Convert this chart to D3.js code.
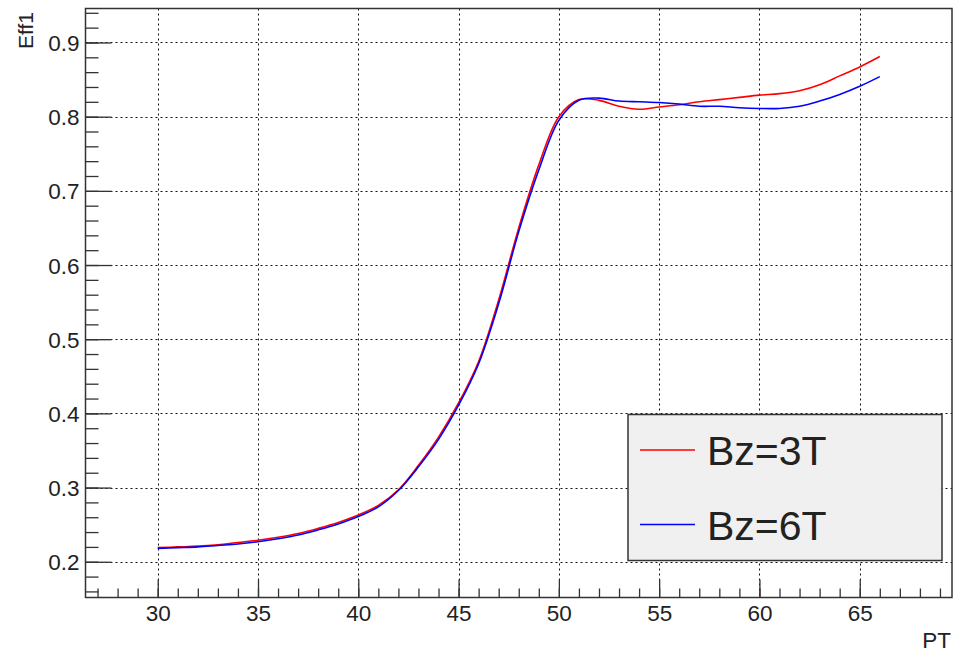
<!DOCTYPE html>
<html>
<head>
<meta charset="UTF-8">
<title>Eff1 vs PT</title>
<script src="https://cdn.jsdelivr.net/npm/d3@7"></script>
<style>
  body { margin: 0; background: #fff; }
  text { font-family: "Liberation Sans", Arial, sans-serif; fill: #222; }
</style>
</head>
<body>
<script>
// data
var pt = [30, 31, 32, 33, 34, 35, 36, 37, 38, 39, 40, 41, 42, 43, 44, 45, 46, 47, 48,
          49, 50, 51, 52, 53, 54, 55, 56, 57, 58, 59, 60, 61, 62, 63, 64, 65, 66];
var eff3T = [0.219, 0.220, 0.221, 0.223, 0.226, 0.229, 0.233, 0.238, 0.245, 0.253, 0.263, 0.276,
             0.297, 0.330, 0.368, 0.414, 0.470, 0.553, 0.650, 0.735, 0.800, 0.823, 0.822, 0.814,
             0.810, 0.813, 0.816, 0.820, 0.823, 0.826, 0.829, 0.831, 0.835, 0.843, 0.855, 0.867, 0.881];
var eff6T = [0.218, 0.219, 0.220, 0.222, 0.224, 0.227, 0.231, 0.236, 0.243, 0.251, 0.261, 0.274,
             0.296, 0.328, 0.365, 0.411, 0.467, 0.548, 0.645, 0.728, 0.795, 0.822, 0.825, 0.821,
             0.820, 0.819, 0.817, 0.814, 0.814, 0.812, 0.811, 0.811, 0.814, 0.821, 0.830, 0.841, 0.854];
var seriesNames = ["Bz=3T", "Bz=6T"];
var seriesColors = ["#ff0000", "#0000ff"];
var xTicks = [30, 35, 40, 45, 50, 55, 60, 65];
var yTicks = [0.2, 0.3, 0.4, 0.5, 0.6, 0.7, 0.8, 0.9];

var w = 954, h = 652;
var frame = { left: 85.5, top: 8.5, right: 952, bottom: 597.5 };

var x = d3.scaleLinear().domain([26.4, 69.6]).range([frame.left, frame.right]);
var y = d3.scaleLinear().domain([0.1518, 0.9458]).range([frame.bottom, frame.top]);

var svg = d3.select("body").append("svg")
    .attr("width", w)
    .attr("height", h);

// grid
var grid = svg.append("g").attr("stroke", "#111").attr("stroke-width", 1)
    .attr("stroke-dasharray", "2,3");
grid.selectAll(".gx").data(xTicks).enter().append("line")
    .attr("x1", function(d){ return Math.round(x(d)) + 0.5; })
    .attr("x2", function(d){ return Math.round(x(d)) + 0.5; })
    .attr("y1", frame.top).attr("y2", frame.bottom);
grid.selectAll(".gy").data(yTicks).enter().append("line")
    .attr("y1", function(d){ return Math.round(y(d)) + 0.5; })
    .attr("y2", function(d){ return Math.round(y(d)) + 0.5; })
    .attr("x1", frame.left).attr("x2", frame.right);

// axes, ticks drawn inward
var xAxis = d3.axisBottom(x).tickValues(xTicks).tickSize(-18).tickPadding(8)
    .tickFormat(d3.format("d"));
var xMinor = d3.axisBottom(x).tickValues(d3.range(27, 70, 1)).tickSize(-9).tickFormat("");
var yAxis = d3.axisLeft(y).tickValues(yTicks).tickSize(-26).tickPadding(6)
    .tickFormat(d3.format(".1f"));
var yMinor = d3.axisLeft(y).tickValues(d3.range(0.16, 0.945, 0.02)).tickSize(-13).tickFormat("");

function styleAxis(g) {
  g.select(".domain").remove();
  g.selectAll("line").attr("stroke", "#333").attr("stroke-width", 1.3);
  g.selectAll("text").style("font-size", "22.5px").attr("fill", "#222");
}

svg.append("g").attr("transform", "translate(0," + frame.bottom + ")").call(xMinor).call(styleAxis);
svg.append("g").attr("transform", "translate(0," + frame.bottom + ")").call(xAxis).call(styleAxis);
svg.append("g").attr("transform", "translate(" + frame.left + ",0)").call(yMinor).call(styleAxis);
svg.append("g").attr("transform", "translate(" + frame.left + ",0)").call(yAxis).call(styleAxis)
    .selectAll("text").attr("dy", "0.36em");

// frame
svg.append("rect")
    .attr("x", frame.left).attr("y", frame.top)
    .attr("width", frame.right - frame.left).attr("height", frame.bottom - frame.top)
    .attr("fill", "none").attr("stroke", "#333").attr("stroke-width", 1.5);

// curves
var line = d3.line()
    .x(function(d){ return x(d[0]); })
    .y(function(d){ return y(d[1]); })
    .curve(d3.curveCatmullRom);

[eff3T, eff6T].forEach(function(vals, i) {
  svg.append("path")
      .datum(pt.map(function(p, j){ return [p, vals[j]]; }))
      .attr("fill", "none")
      .attr("stroke", seriesColors[i])
      .attr("stroke-width", 1.6)
      .attr("d", line);
});

// axis titles
svg.append("text")
    .attr("x", frame.right - 1).attr("y", 648)
    .attr("text-anchor", "end")
    .style("font-size", "22.5px")
    .text("PT");
svg.append("text")
    .attr("transform", "translate(33,12) rotate(-90)")
    .attr("text-anchor", "end")
    .style("font-size", "21px")
    .text("Eff1");

// legend
var legend = svg.append("g");
legend.append("rect")
    .attr("x", 628).attr("y", 414.5)
    .attr("width", 314).attr("height", 146)
    .attr("fill", "#f0f0f0").attr("stroke", "#333").attr("stroke-width", 1.5);
var entries = legend.selectAll(".entry").data(seriesNames).enter().append("g")
    .attr("transform", function(d, i){ return "translate(0," + (450 + i * 74.5) + ")"; });
entries.append("line")
    .attr("x1", 640).attr("x2", 695)
    .attr("stroke", function(d, i){ return seriesColors[i]; })
    .attr("stroke-width", 1.5);
entries.append("text")
    .attr("x", 707).attr("y", 15)
    .style("font-size", "41px")
    .attr("fill", "#000")
    .text(function(d){ return d; });
</script>
</body>
</html>
